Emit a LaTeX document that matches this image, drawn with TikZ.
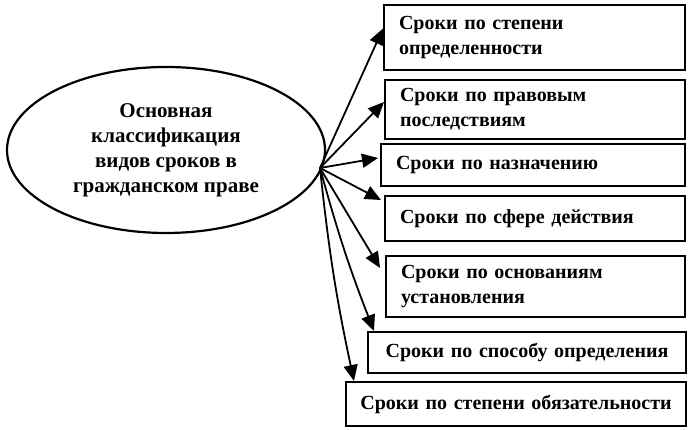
\documentclass[tikz,border=0pt]{standalone}
\usepackage{fontspec}
\setmainfont{Liberation Serif}
\usepackage{tikz}
\usetikzlibrary{shapes,arrows.meta,calc}

\begin{document}
\begin{tikzpicture}[x=1pt,y=1pt,
    srokbox/.style={draw, line width=2pt, anchor=north west, inner xsep=15pt, inner ysep=0pt, align=left, font=\fontsize{20}{25}\selectfont\bfseries},
    srokarrow/.style={line width=1.8pt, -{Triangle[length=16pt,width=14pt]}}]
        \useasboundingbox (0,0) rectangle (689,430);
        
        \node[draw, ellipse, line width=2.2pt, minimum width=318pt, minimum height=166pt, inner sep=0pt, align=center, font=\fontsize{21}{25}\selectfont\bfseries] (main) at (166,280) {Основная\\классификация\\видов сроков в\\гражданском праве};
        \coordinate (hub) at (320,262);
        
        \node[srokbox, text width=271pt, minimum height=65pt] (b1) at (383,426) {Сроки по степени\\определенности};
        \node[srokbox, text width=270pt, minimum height=59pt] (b2) at (384,351) {Сроки по правовым\\последствиям};
        \node[srokbox, text width=274pt, minimum height=42pt] (b3) at (380,287) {Сроки по назначению};
        \node[srokbox, text width=270pt, minimum height=45pt] (b4) at (384,235) {Сроки по сфере действия};
        \node[srokbox, text width=269pt, minimum height=61pt] (b5) at (385,175) {Сроки по основаниям\\установления};
        \node[srokbox, text width=302pt, inner xsep=8pt, minimum height=41pt, align=center] (b6) at (367,99) {Сроки по способу определения};
        \node[srokbox, text width=324pt, inner xsep=8pt, minimum height=44pt, align=center] (b7) at (345,49) {Сроки по степени обязательности};
        
        \draw[srokarrow] (hub) -- ([yshift=9pt]b1.west);
        \draw[srokarrow] (hub) -- ([yshift=7.5pt]b2.west);
        \draw[srokarrow] (hub) -- ([xshift=-2pt,yshift=7pt]b3.west);
        \draw[srokarrow] (hub) -- ([xshift=-3pt,yshift=-5pt]b4.north west);
        \draw[srokarrow] (hub) -- ([xshift=-5pt,yshift=-13pt]b5.north west);
        \draw[srokarrow] (hub) to[bend right=3] ([xshift=7pt]b6.north west);
        \draw[srokarrow] (hub) to[bend right=3] ([xshift=9pt]b7.north west);
    \end{tikzpicture}
\end{document}
